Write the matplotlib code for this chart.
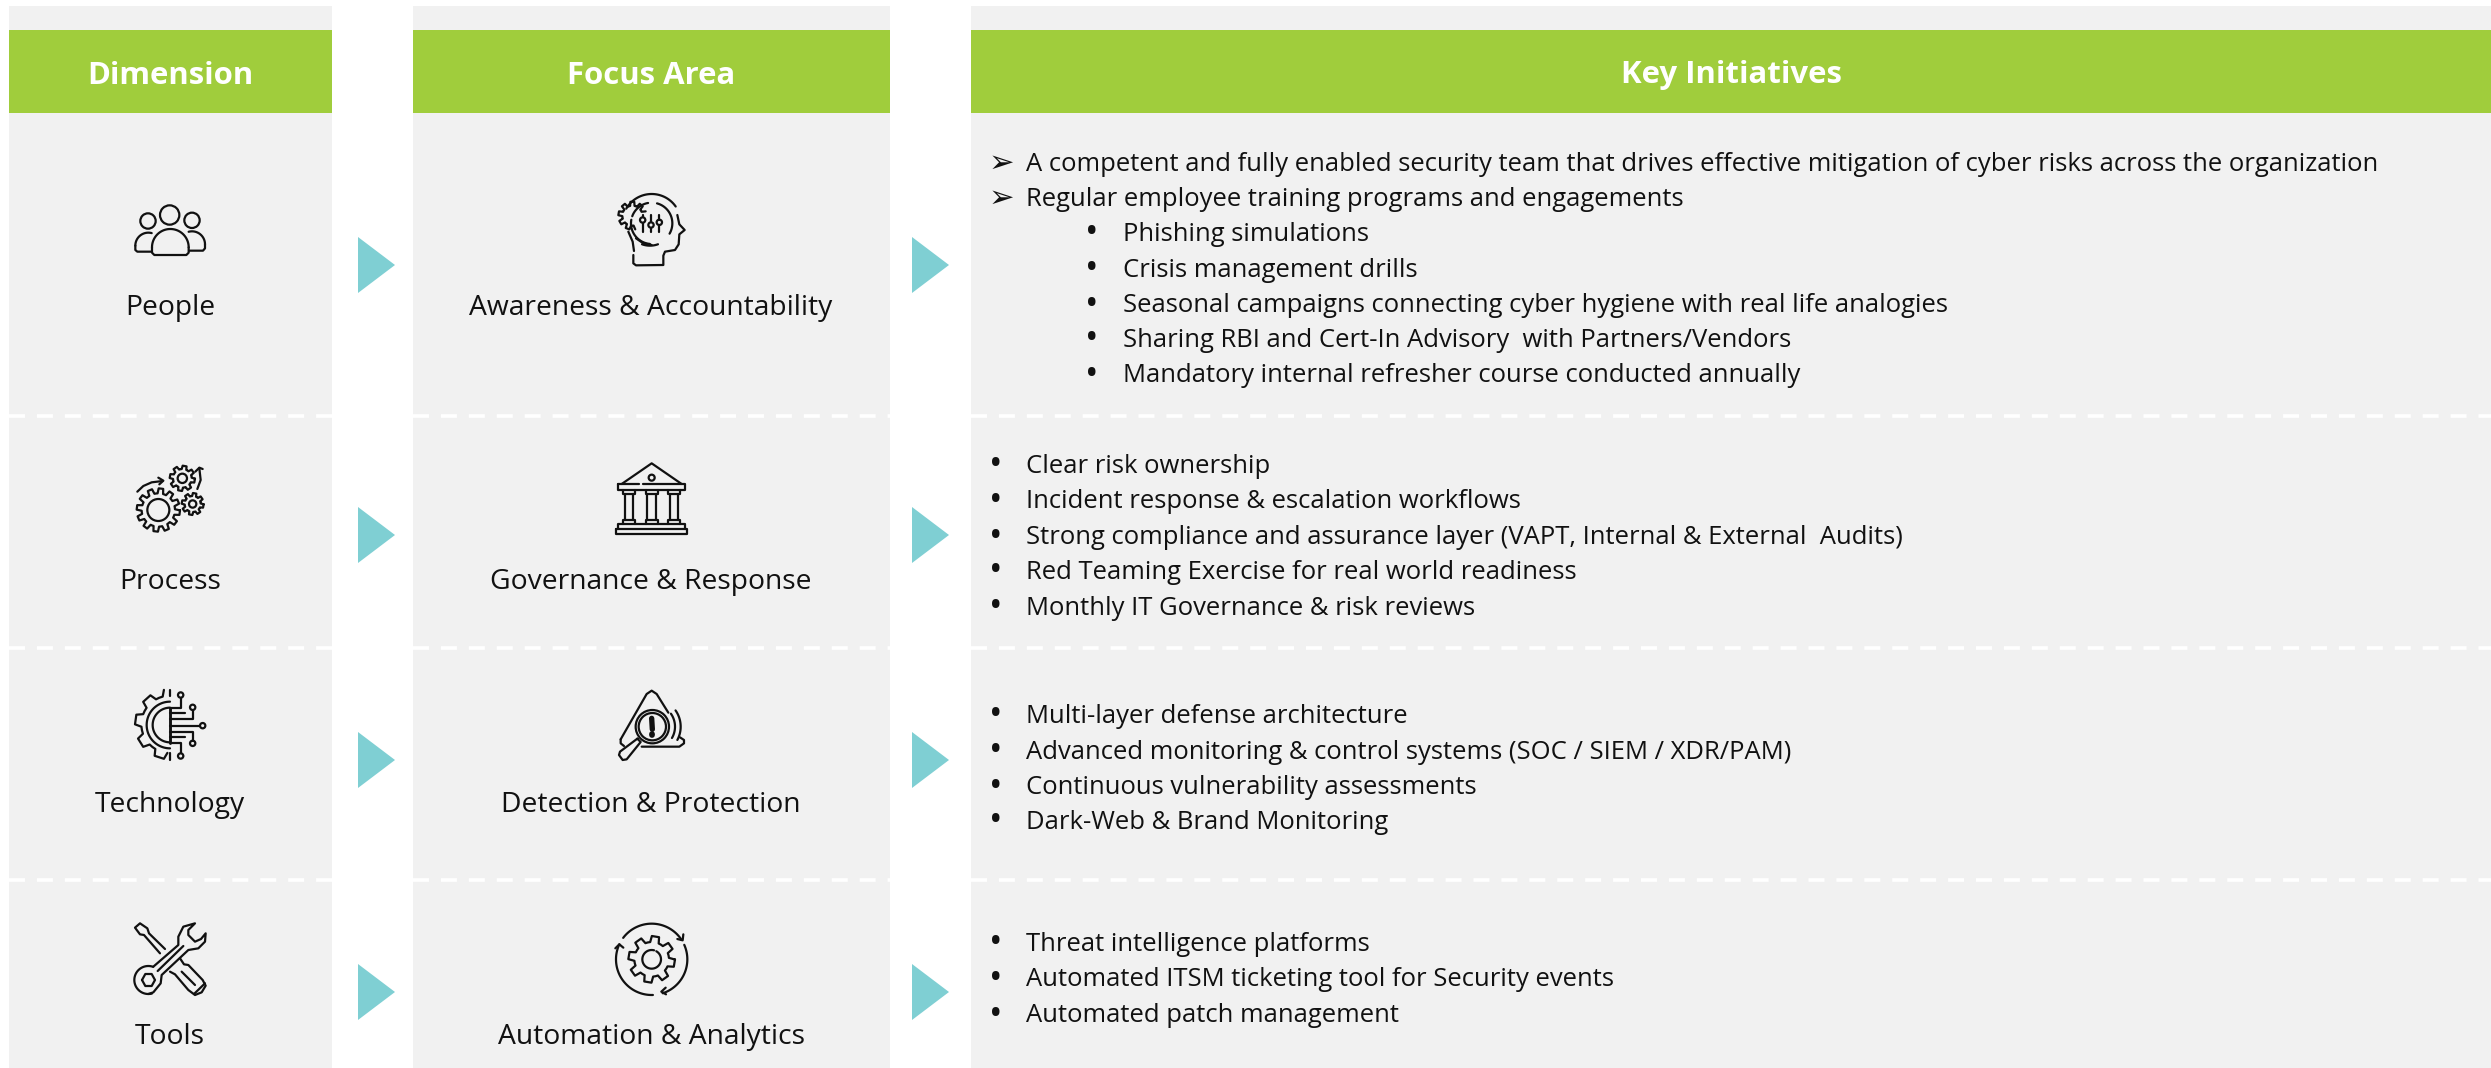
import numpy as np
import matplotlib
matplotlib.use('Agg')
import matplotlib.pyplot as plt
from matplotlib.patches import Rectangle, Polygon, Circle

plt.rcParams['font.family'] = ['Open Sans', 'DejaVu Sans']
plt.rcParams['lines.scale_dashes'] = False

# content
headers = ['Dimension', 'Focus Area', 'Key Initiatives']
dimensions = ['People', 'Process', 'Technology', 'Tools']
focus_areas = ['Awareness & Accountability', 'Governance & Response',
               'Detection & Protection', 'Automation & Analytics']
people_items = [
    ('arrow', 'A competent and fully enabled security team that drives effective mitigation of cyber risks across the organization'),
    ('arrow', 'Regular employee training programs and engagements'),
    ('sub', 'Phishing simulations'),
    ('sub', 'Crisis management drills'),
    ('sub', 'Seasonal campaigns connecting cyber hygiene with real life analogies'),
    ('sub', 'Sharing RBI and Cert-In Advisory  with Partners/Vendors'),
    ('sub', 'Mandatory internal refresher course conducted annually'),
]
process_items = ['Clear risk ownership', 'Incident response & escalation workflows',
                 'Strong compliance and assurance layer (VAPT, Internal & External  Audits)',
                 'Red Teaming Exercise for real world readiness',
                 'Monthly IT Governance & risk reviews']
technology_items = ['Multi-layer defense architecture',
                    'Advanced monitoring & control systems (SOC / SIEM / XDR/PAM)',
                    'Continuous vulnerability assessments', 'Dark-Web & Brand Monitoring']
tools_items = ['Threat intelligence platforms', 'Automated ITSM ticketing tool for Security events',
               'Automated patch management']

# layout, in pixels of the picture (text rows are baselines)
W, H = 2491, 1068
columns = [(9, 332), (413, 890), (971, 2491)]
dash_rows = [416, 648, 880]
arrow_rows = [265, 535, 760, 992]
arrow_cols = [358, 912]
label_rows = [315.5, 589, 812, 1044]
people_y = [171, 206, 241, 277, 312, 347, 382]
process_y = [473, 508, 544, 579, 615]
technology_y = [723, 759, 794, 829]
tools_y = [951, 986, 1022]

GREY = '#F1F1F1'
GREEN = '#A0CD3C'
TEAL = '#7FCFD3'
INK = '#111111'

fig = plt.figure(figsize=(W / 100, H / 100), dpi=100)
ax = fig.add_axes([0, 0, 1, 1])
ax.set_xlim(0, W)
ax.set_ylim(H, 0)
ax.axis('off')

LW = 1.6


def line(ox, oy, pts, lw=LW, closed=False):
    # points are given in the 3x crop space of each icon
    pts = np.array(pts, dtype=float)
    if closed:
        pts = np.vstack([pts, pts[:1]])
    ax.plot(ox + pts[:, 0] / 3, oy + pts[:, 1] / 3, color=INK, lw=lw,
            solid_capstyle='round', solid_joinstyle='round')


def circle(ox, oy, cx, cy, r, lw=LW):
    ax.add_patch(Circle((ox + cx / 3, oy + cy / 3), r / 3, fill=False, ec=INK, lw=lw))


def arc(ox, oy, cx, cy, r, a0, a1, lw=LW):
    t = np.radians(np.linspace(a0, a1, 60))
    line(ox, oy, np.c_[cx + r * np.cos(t), cy + r * np.sin(t)], lw=lw)


def gear(ox, oy, cx, cy, ro, ri, teeth, a0=0, a1=360, phase=0):
    pitch = 360 / teeth
    angles, radii = [], []
    k = np.floor((a0 - phase) / pitch)
    while phase + k * pitch < a1:
        base = phase + k * pitch
        for frac, r in [(0.0, ri), (0.18, ri), (0.30, ro), (0.70, ro), (0.82, ri)]:
            angles.append(base + frac * pitch)
            radii.append(r)
        k += 1
    angles = np.array(angles)
    radii = np.array(radii)
    keep = (angles >= a0) & (angles <= a1)
    t = np.radians(angles[keep])
    pts = np.c_[cx + radii[keep] * np.cos(t), cy + radii[keep] * np.sin(t)]
    line(ox, oy, pts, closed=(a1 - a0 >= 360))


def icon_people(ox, oy):
    circle(ox, oy, 149, 75, 29)
    circle(ox, oy, 84, 93, 23)
    circle(ox, oy, 216, 91, 23)
    arc(ox, oy, 151, 172, 55, 180, 360)
    line(ox, oy, [(96, 172), (96, 188), (103, 195), (199, 195), (206, 188), (206, 172)])
    arc(ox, oy, 85, 167, 39, 180, 285)
    line(ox, oy, [(46, 167), (46, 180), (52, 185), (95, 185)])
    arc(ox, oy, 216, 163, 39, 255, 360)
    line(ox, oy, [(255, 163), (255, 175), (249, 182), (207, 182)])


def icon_head(ox, oy):
    gear(ox, oy, 97, 92, 42, 30, 9, a0=70, a1=345, phase=10)
    arc(ox, oy, 155, 115, 62, 95, 190)
    arc(ox, oy, 155, 115, 62, -75, 30)
    arc(ox, oy, 155, 115, 62, 200, 260)
    arc(ox, oy, 150, 112, 70, 70, 110)
    arc(ox, oy, 155, 115, 88, 210, 325)
    for x, y0 in zip([128, 153, 178], [105, 120, 112]):
        line(ox, oy, [(x, 90), (x, y0 - 8)])
        line(ox, oy, [(x, y0 + 8), (x, 140)])
        circle(ox, oy, x, y0, 8)
    line(ox, oy, [(232, 90), (238, 118), (254, 135), (238, 148), (236, 178),
                  (225, 195), (195, 200), (190, 212), (190, 240), (108, 241), (100, 235), (100, 210)])
    line(ox, oy, [(85, 140), (98, 170), (102, 198)])
    line(ox, oy, [(108, 160), (130, 175), (155, 180)])


def icon_gears(ox, oy):
    gear(ox, oy, 115, 165, 65, 50, 12, phase=-8)
    circle(ox, oy, 115, 165, 33)
    gear(ox, oy, 187, 70, 38, 28, 8, phase=-12)
    circle(ox, oy, 187, 70, 14)
    gear(ox, oy, 218, 147, 33, 24, 8, phase=-12)
    circle(ox, oy, 218, 147, 11)
    line(ox, oy, [(52, 110), (70, 93), (95, 82), (128, 78)])
    line(ox, oy, [(115, 68), (130, 77), (118, 88)])
    line(ox, oy, [(232, 102), (242, 75), (238, 40)])
    line(ox, oy, [(226, 50), (238, 38), (248, 42)])


def icon_bank(ox, oy):
    line(ox, oy, [(65, 87), (155, 25), (245, 87)])
    circle(ox, oy, 155, 68, 9)
    line(ox, oy, [(55, 88), (118, 88)])
    line(ox, oy, [(128, 88), (255, 88), (255, 105), (55, 105), (55, 88)])
    for x in [87, 155, 222]:
        line(ox, oy, [(x - 18, 105), (x - 18, 118), (x + 18, 118), (x + 18, 105)])
        line(ox, oy, [(x - 13, 118), (x - 13, 195)])
        line(ox, oy, [(x + 13, 118), (x + 13, 195)])
        line(ox, oy, [(x - 18, 207), (x - 18, 195), (x + 18, 195), (x + 18, 207)])
    line(ox, oy, [(55, 222), (55, 207), (255, 207), (255, 222)])
    line(ox, oy, [(47, 222), (262, 222), (262, 238), (47, 238)], closed=True)


def icon_chip(ox, oy):
    gear(ox, oy, 150, 133, 105, 86, 9, a0=90, a1=270, phase=8)
    line(ox, oy, [(150, 30), (150, 48)])
    line(ox, oy, [(150, 218), (150, 240)])
    arc(ox, oy, 150, 135, 52, 90, 270)
    arc(ox, oy, 150, 135, 70, 90, 270)
    line(ox, oy, [(150, 83), (150, 190)], lw=LW * 1.3)
    line(ox, oy, [(150, 85), (182, 85), (182, 53)])
    circle(ox, oy, 182, 45, 8)
    line(ox, oy, [(150, 98), (195, 98)])
    line(ox, oy, [(150, 118), (218, 118), (218, 90)])
    circle(ox, oy, 218, 82, 8)
    line(ox, oy, [(150, 137), (240, 137)])
    circle(ox, oy, 248, 137, 8)
    line(ox, oy, [(150, 155), (218, 155), (218, 182)])
    circle(ox, oy, 218, 190, 8)
    line(ox, oy, [(150, 172), (195, 172)])
    line(ox, oy, [(150, 188), (182, 188), (182, 220)])
    circle(ox, oy, 182, 228, 8)


def icon_alert(ox, oy):
    line(ox, oy, [(62, 178), (140, 42), (155, 32), (170, 42), (205, 98)])
    line(ox, oy, [(62, 178), (62, 190), (72, 198)])
    line(ox, oy, [(125, 200), (238, 200), (252, 190), (252, 180), (240, 172)])
    circle(ox, oy, 157, 140, 50)
    circle(ox, oy, 157, 140, 41)
    line(ox, oy, [(155, 115), (157, 148)], lw=LW * 2.4)
    line(ox, oy, [(156, 163), (156, 166)], lw=LW * 2.6)
    line(ox, oy, [(112, 176), (122, 186), (80, 238), (68, 240), (57, 225), (60, 215), (112, 176)])
    arc(ox, oy, 157, 140, 68, -35, 30)
    arc(ox, oy, 157, 140, 85, -35, 28)


def icon_tools(ox, oy):
    # spanner
    arc(ox, oy, 85, 195, 42, 75, 290)
    line(ox, oy, [(100, 155), (175, 90), (175, 65), (190, 35), (225, 25), (205, 45), (205, 60),
                  (225, 80), (243, 72), (257, 55), (255, 80), (235, 100), (205, 105),
                  (125, 180), (122, 205), (100, 232), (85, 237)])
    line(ox, oy, [(113, 168), (190, 93)])
    line(ox, oy, [(66, 195), (76, 177), (95, 177), (105, 195), (95, 213), (76, 213)], closed=True)
    # screwdriver
    line(ox, oy, [(135, 102), (87, 55), (82, 40), (60, 25), (45, 38), (60, 58), (72, 60), (120, 115)])
    line(ox, oy, [(150, 170), (165, 178), (205, 225), (225, 240), (245, 232), (257, 212),
                  (248, 195), (205, 150), (192, 148), (180, 130)])
    line(ox, oy, [(185, 170), (225, 210)])
    line(ox, oy, [(222, 237), (255, 205)])


def icon_cycle(ox, oy):
    gear(ox, oy, 155, 133, 70, 52, 8, phase=-13)
    arc(ox, oy, 155, 133, 28, -60, 285)
    arc(ox, oy, 155, 133, 107, -143, -33)
    line(ox, oy, [(232, 72), (248, 76), (250, 58)])
    arc(ox, oy, 155, 133, 107, -24, 72)
    line(ox, oy, [(197, 218), (184, 230), (198, 238)])
    arc(ox, oy, 155, 133, 107, 88, 205)
    line(ox, oy, [(46, 100), (58, 88), (70, 98)])


# panels and header bands
for (x0, x1), title in zip(columns, headers):
    ax.add_patch(Rectangle((x0, 6), x1 - x0, H - 6, fc=GREY, ec='none'))
    ax.add_patch(Rectangle((x0, 30), x1 - x0, 83, fc=GREEN, ec='none'))
    ax.text((x0 + x1) / 2, 83.5, title, color='white', fontsize=22.4, weight='bold',
            ha='center', va='baseline')
    for y in dash_rows:
        ax.plot([x0, x1], [y, y], color='white', lw=2.6, dashes=(11.5, 8.6),
                solid_capstyle='butt', dash_capstyle='butt')

# arrows between the columns
for cx in arrow_cols:
    for cy in arrow_rows:
        ax.add_patch(Polygon([(cx, cy - 28), (cx + 37, cy), (cx, cy + 28)], fc=TEAL, ec='none'))

# row labels
for y, dim, area in zip(label_rows, dimensions, focus_areas):
    ax.text(170, y, dim, color=INK, fontsize=20.3, ha='center', va='baseline')
    ax.text(651, y, area, color=INK, fontsize=20.3, ha='center', va='baseline')

# icons
icon_people(120, 190)
icon_head(600, 185)
icon_gears(120, 455)
icon_bank(600, 455)
icon_chip(120, 680)
icon_alert(600, 680)
icon_tools(120, 915)
icon_cycle(600, 915)

# initiatives
TXT = 18.45
DOT = 26
DOT_UP = 2.5  # the larger bullet sits a little under the text baseline


def bullet(x, y):
    ax.text(x, y + DOT_UP, '\u2022', color=INK, fontsize=DOT, ha='center', va='baseline')


for (kind, s), y in zip(people_items, people_y):
    if kind == 'arrow':
        ax.text(1001, y + 1, '\u27a2', color=INK, fontsize=22, family=['DejaVu Sans'],
                ha='center', va='baseline')
        ax.text(1026, y, s, color=INK, fontsize=TXT, ha='left', va='baseline')
    else:
        bullet(1092, y)
        ax.text(1123, y, s, color=INK, fontsize=TXT, ha='left', va='baseline')

for items, ys in [(process_items, process_y), (technology_items, technology_y), (tools_items, tools_y)]:
    for s, y in zip(items, ys):
        bullet(996, y)
        ax.text(1026, y, s, color=INK, fontsize=TXT, ha='left', va='baseline')

fig.savefig('out.png', dpi=100)
